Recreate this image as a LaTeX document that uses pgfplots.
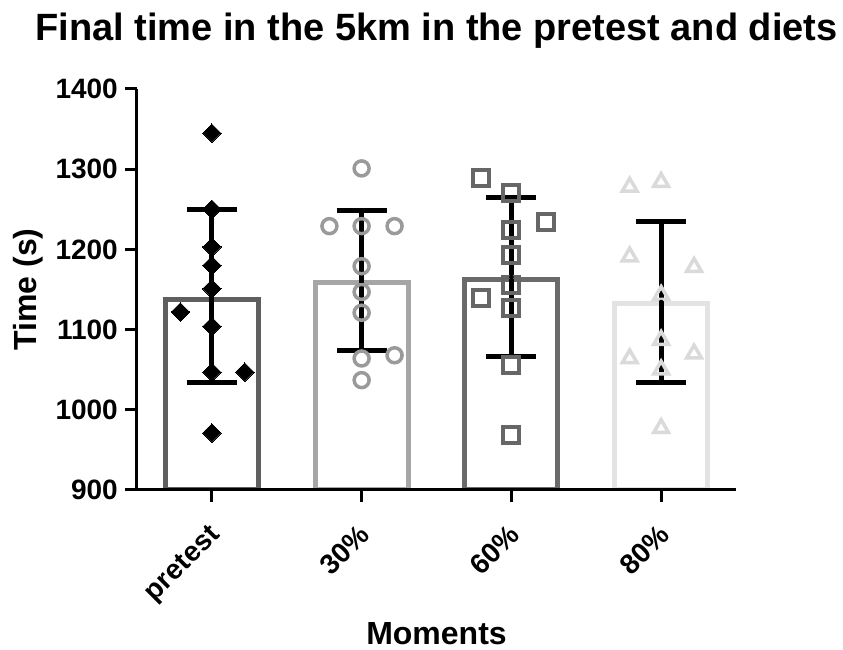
\documentclass[border=0pt]{standalone}
\usepackage{pgfplots}
\pgfplotsset{compat=1.18}
\usepackage{fontspec}
\setmainfont{Liberation Sans}
\definecolor{barA}{HTML}{5F5F5F}
\definecolor{barB}{HTML}{A6A6A6}
\definecolor{barC}{HTML}{6A6A6A}
\definecolor{barD}{HTML}{E3E3E3}
\definecolor{mkB}{HTML}{9A9A9A}
\definecolor{mkC}{HTML}{666666}
\definecolor{mkD}{HTML}{DADADA}
\begin{document}
\begin{tikzpicture}
\useasboundingbox (0,0) rectangle (843pt,650pt);
\begin{axis}[
  at={(137pt,160pt)}, anchor=south west,
  scale only axis, width=599pt, height=401pt,
  xmin=-0.5, xmax=3.5, ymin=900, ymax=1400,
  axis lines=left, axis line style={line width=3pt, -},
  axis on top,
  xtick={0,1,2,3}, xticklabels={pretest,30\%,60\%,80\%},
  ytick={900,1000,1100,1200,1300,1400},
  tick align=outside, major tick length=12pt,
  tick style={line width=3pt, black},
  /pgf/number format/assume math mode=true,
  /pgf/number format/1000 sep={},
  yticklabel style={font=\fontsize{28}{30}\selectfont\bfseries, anchor=east, inner sep=0pt, xshift=-7pt},
  xticklabel style={font=\fontsize{28}{30}\selectfont\bfseries, xshift=-4pt, yshift=-21pt, rotate=45, anchor=north east, inner sep=0pt},
  title={Final time in the 5km in the pretest and diets},
  title style={font=\fontsize{38}{40}\selectfont\bfseries, at={(axis description cs:0.5,1.105)}, anchor=base, yshift=0pt},
  xlabel={Moments},
  xlabel style={font=\fontsize{32}{34}\selectfont\bfseries, at={(axis description cs:0.5,-0.385)}, anchor=base},
  ylabel={Time (s)},
  ylabel style={font=\fontsize{32}{34}\selectfont\bfseries, at={(axis description cs:-0.167,0.5)}, anchor=base},
]
% bars (means)
\addplot[ybar, bar width=0.62, bar shift=0pt, draw=barA, fill=white, line width=5pt] coordinates {(0,1138)};
\addplot[ybar, bar width=0.62, bar shift=0pt, draw=barB, fill=white, line width=5pt] coordinates {(1,1159)};
\addplot[ybar, bar width=0.62, bar shift=0pt, draw=barC, fill=white, line width=5pt] coordinates {(2,1163)};
\addplot[ybar, bar width=0.62, bar shift=0pt, draw=barD, fill=white, line width=5pt] coordinates {(3,1132)};
% individual points
\addplot[only marks, mark=square*, mark size=6.5pt, mark options={rotate=45, fill=black, draw=black, line width=0pt}] coordinates {
(0,1345) (0,1250) (0,1203) (0,1180) (0,1151) (-0.21,1122) (0,1104) (0,1047) (0.22,1047) (0,971)};
\addplot[only marks, mark=o, mark size=7.5pt, mark options={draw=mkB, line width=3.5pt}] coordinates {
(1,1301) (0.785,1229) (1,1229) (1.22,1229) (1,1179) (1,1147) (1,1121) (1,1064) (1.22,1068) (1,1037)};
\addplot[only marks, mark=square, mark size=8pt, mark options={draw=mkC, line width=4pt}] coordinates {
(1.8,1289) (2,1270) (2.23,1234) (2,1224) (2,1193) (2,1156) (1.8,1139) (2,1127) (2,1056) (2,969)};
\addplot[only marks, mark=triangle, mark size=8.5pt, mark options={draw=mkD, line width=3.5pt}] coordinates {
(2.79,1278) (3,1284) (2.79,1191) (3.22,1178) (3,1143) (3,1087) (2.79,1064) (3.22,1070) (3,1050) (3,977)};
% mean +- SD
\addplot[only marks, mark=none, error bars/.cd, y dir=both, y explicit, error mark=|,
  error bar style={line width=5pt, black},
  error mark options={line width=5pt, mark size=25pt, black}] coordinates {
(0,1142) +- (0,108)
(1,1161) +- (0,87)
(2,1165.5) +- (0,99.5)
(3,1134.5) +- (0,100.5)};
\end{axis}
\end{tikzpicture}
\end{document}
